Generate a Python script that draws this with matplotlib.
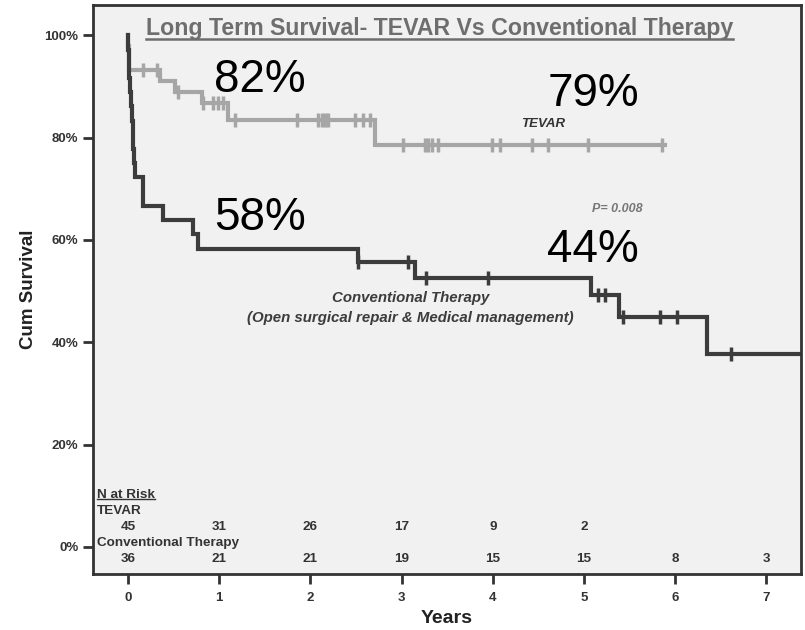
import numpy as np
import matplotlib
matplotlib.use("Agg")
import matplotlib.pyplot as plt
from matplotlib.lines import Line2D

plt.rcParams['font.family'] = ['Liberation Sans', 'DejaVu Sans']

# Kaplan-Meier step data (years, cumulative survival %)
tevar_t = [0.0, 0.003, 0.006, 0.01, 0.35, 0.52, 0.81, 1.10, 2.71, 5.89]
tevar_s = [100, 97.8, 95.6, 93.3, 91.1, 88.9, 86.7, 83.4, 78.5, 78.5]
tevar_cens_t = [0.16, 0.32, 0.55, 0.82, 0.93, 0.99, 1.04, 1.17, 1.85, 2.08, 2.13,
                2.16, 2.19, 2.49, 2.58, 2.65, 3.02, 3.26, 3.29, 3.33, 3.40, 3.99,
                4.08, 4.43, 4.61, 5.04, 5.86]

conv_t = [0.0, 0.005, 0.01, 0.015, 0.02, 0.03, 0.04, 0.05, 0.06, 0.07, 0.08,
          0.16, 0.38, 0.71, 0.77, 2.52, 3.15, 5.08, 5.38, 6.35, 7.4]
conv_s = [100, 97.2, 94.4, 91.7, 88.9, 86.1, 83.3, 80.6, 77.8, 75.0, 72.2,
          66.7, 63.9, 61.1, 58.3, 55.6, 52.5, 49.2, 44.9, 37.7, 37.7]
conv_cens_t = [2.52, 3.07, 3.27, 3.95, 5.15, 5.23, 5.43, 5.83, 6.02, 6.61]

# survival labels
pct_labels = ["82%", "79%", "58%", "44%"]
pct_x = [1.45, 5.1, 1.45, 5.1]
pct_y = [91.2, 88.6, 64.3, 58.0]

# numbers at risk
risk_years = [0, 1, 2, 3, 4, 5, 6, 7]
risk_tevar = [45, 31, 26, 17, 9, 2, None, None]
risk_conv = [36, 21, 21, 19, 15, 15, 8, 3]

light = '#a6a6a6'
dark = '#3c3c3c'
txt = '#333333'


def surv_at(t, ts, ss):
    idx = np.searchsorted(ts, t, side='right') - 1
    return np.array(ss)[idx]


fig = plt.figure(figsize=(8.05, 6.3), dpi=100)
ax = fig.add_axes([0.1155, 0.0889, 0.8795, 0.9031])
ax.set_facecolor('#f1f1f1')

ax.step(tevar_t, tevar_s, where='post', color=light, lw=3, solid_joinstyle='miter')
ax.plot(tevar_cens_t, surv_at(tevar_cens_t, tevar_t, tevar_s), ls='none',
        marker='|', ms=10, mew=2.5, color=light)
ax.step(conv_t, conv_s, where='post', color=dark, lw=3, solid_joinstyle='miter')
ax.plot(conv_cens_t, surv_at(conv_cens_t, conv_t, conv_s), ls='none',
        marker='|', ms=10, mew=2.5, color=dark)

ax.set_xlim(-0.384, 7.38)
ax.set_ylim(-5.3, 105.9)
ax.set_xticks(risk_years)
ax.set_yticks([0, 20, 40, 60, 80, 100])
ax.set_yticklabels([f"{v}%" for v in [0, 20, 40, 60, 80, 100]])
ax.tick_params(length=7, width=2, color=txt, labelsize=9.5, labelcolor=txt)
ax.tick_params(axis='x', pad=6)
for lab in ax.get_xticklabels() + ax.get_yticklabels():
    lab.set_fontweight('bold')
for sp in ax.spines.values():
    sp.set_linewidth(2)
    sp.set_color(txt)

ax.set_xlabel("Years", fontsize=14, fontweight='bold', color='#222222', labelpad=4)
ax.set_ylabel("Cum Survival", fontsize=13.5, fontweight='bold', color='#222222', labelpad=5)

title = ax.text(3.42, 101.3, "Long Term Survival- TEVAR Vs Conventional Therapy",
                ha='center', va='center', fontsize=16.7, fontweight='bold', color='#6e6e6e')

for s, x, y in zip(pct_labels, pct_x, pct_y):
    ax.text(x, y, s, ha='center', va='center', fontsize=33, color='black')

ax.text(4.55, 82.6, "TEVAR", ha='center', va='center', fontsize=9.5,
        fontweight='bold', fontstyle='italic', color=txt)
ax.text(3.1, 48.6, "Conventional Therapy", ha='center', va='center', fontsize=10.8,
        fontweight='bold', fontstyle='italic', color=dark)
ax.text(3.1, 44.8, "(Open surgical repair & Medical management)", ha='center',
        va='center', fontsize=10.8, fontweight='bold', fontstyle='italic', color=dark)
ax.text(5.37, 66.0, "P= 0.008", ha='center', va='center', fontsize=9,
        fontweight='bold', fontstyle='italic', color='#777777')

# risk table inside the plot
tbl = dict(fontsize=9.7, fontweight='bold', color=txt, va='center')
nrisk = ax.text(-0.34, 10.2, "N at Risk", ha='left', **tbl)
ax.text(-0.34, 7.0, "TEVAR", ha='left', **tbl)
ax.text(-0.34, 0.8, "Conventional Therapy", ha='left', **tbl)
for yr, n in zip(risk_years, risk_tevar):
    if n is not None:
        ax.text(yr, 3.9, str(n), ha='center', **tbl)
for yr, n in zip(risk_years, risk_conv):
    ax.text(yr, -2.3, str(n), ha='center', **tbl)

# underline the title and the risk-table header
fig.canvas.draw()
inv = fig.transFigure.inverted()
for t, c, w in [(title, '#6e6e6e', 1.8), (nrisk, txt, 1.0)]:
    bb = t.get_window_extent()
    (x0, y0), (x1, y1) = inv.transform([(bb.x0, bb.y0), (bb.x1, bb.y0)])
    fig.add_artist(Line2D([x0, x1], [y0 + 0.002, y1 + 0.002], color=c, lw=w,
                          transform=fig.transFigure))

fig.savefig("out.png", dpi=100)
